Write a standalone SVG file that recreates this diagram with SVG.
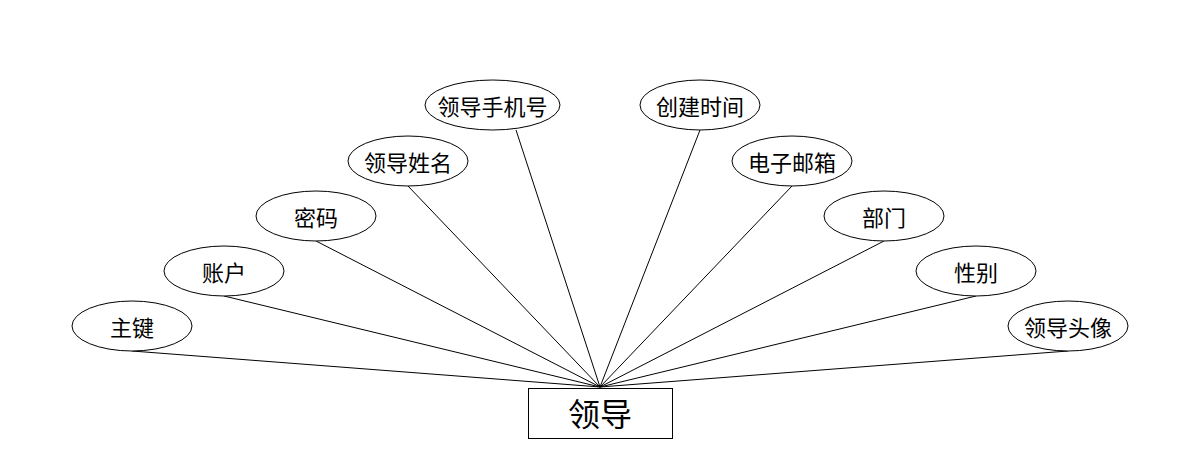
<svg xmlns="http://www.w3.org/2000/svg" width="1200" height="468" viewBox="0 0 1200 468">
<style>
.e{fill:#fff;stroke:#000;stroke-width:1}
.t{font-family:"Microsoft YaHei","Noto Sans CJK SC",sans-serif;font-size:22px;fill:#000;text-anchor:middle;dominant-baseline:central}
.c line{stroke:#000;stroke-width:1}
</style>
<rect width="1200" height="468" fill="#fff"/>
<g class="c" id="connectors">
<line x1="132" y1="351" x2="600" y2="387"/>
<line x1="224" y1="296" x2="600" y2="387"/>
<line x1="316" y1="241" x2="600" y2="387"/>
<line x1="408" y1="186" x2="600" y2="387"/>
<line x1="516" y1="130" x2="600" y2="387"/>
<line x1="700" y1="130" x2="600" y2="387"/>
<line x1="792" y1="186" x2="600" y2="387"/>
<line x1="884" y1="241" x2="600" y2="387"/>
<line x1="976" y1="296" x2="600" y2="387"/>
<line x1="1068" y1="351" x2="600" y2="387"/>
</g>
<g id="n-main"><rect x="528.5" y="388.5" width="144" height="50" fill="#fff" stroke="#000"/><text class="t" x="600" y="412" style="font-size:32px">领导</text></g>
<g id="n1"><ellipse class="e" cx="132" cy="326" rx="60" ry="25"/><text class="t" x="132" y="326">主键</text></g>
<g id="n2"><ellipse class="e" cx="224" cy="271" rx="60" ry="25"/><text class="t" x="224" y="271">账户</text></g>
<g id="n3"><ellipse class="e" cx="316" cy="216" rx="60" ry="25"/><text class="t" x="316" y="216">密码</text></g>
<g id="n4"><ellipse class="e" cx="408" cy="161" rx="60" ry="25"/><text class="t" x="408" y="161">领导姓名</text></g>
<g id="n5"><ellipse class="e" cx="492.5" cy="105" rx="67.5" ry="25"/><text class="t" x="492.5" y="105">领导手机号</text></g>
<g id="n6"><ellipse class="e" cx="700" cy="105" rx="60" ry="25"/><text class="t" x="700" y="105">创建时间</text></g>
<g id="n7"><ellipse class="e" cx="792" cy="161" rx="60" ry="25"/><text class="t" x="792" y="161">电子邮箱</text></g>
<g id="n8"><ellipse class="e" cx="884" cy="216" rx="60" ry="25"/><text class="t" x="884" y="216">部门</text></g>
<g id="n9"><ellipse class="e" cx="976" cy="271" rx="60" ry="25"/><text class="t" x="976" y="271">性别</text></g>
<g id="n10"><ellipse class="e" cx="1068" cy="326" rx="60" ry="25"/><text class="t" x="1068" y="326">领导头像</text></g>
</svg>
